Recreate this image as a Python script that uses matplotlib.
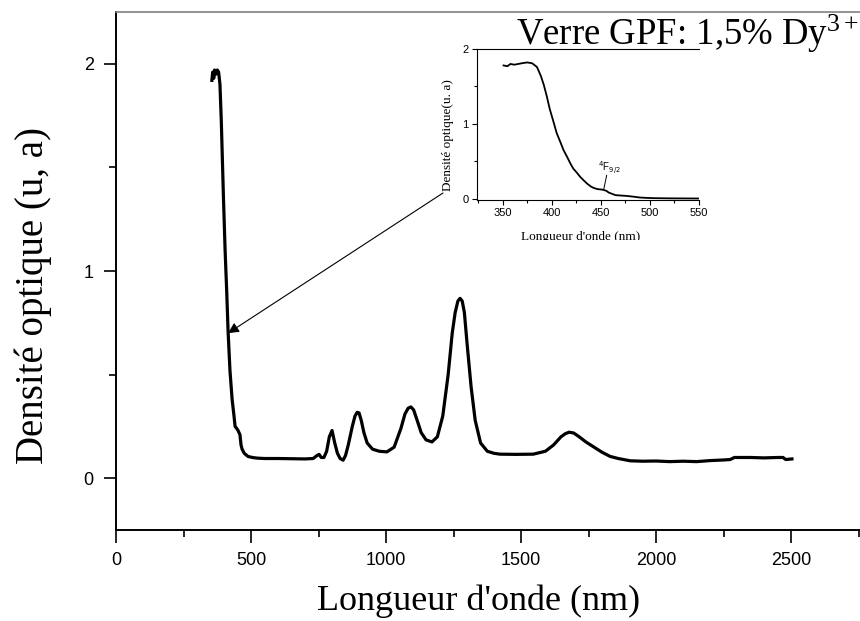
import matplotlib
matplotlib.use("Agg")
import matplotlib.pyplot as plt
from matplotlib.ticker import MultipleLocator
from matplotlib.patches import Rectangle

plt.rcParams["mathtext.fontset"] = "custom"
plt.rcParams["mathtext.rm"] = "Liberation Serif"
plt.rcParams["mathtext.it"] = "Liberation Serif:italic"

# ---- main spectrum (wavelength nm, optical density) ----
wavelength = [355, 358, 362, 365, 370, 375, 380, 385, 390, 393, 398, 404, 410, 415,
              422, 430, 437, 441, 447, 452, 459, 463, 467, 475, 489, 505, 522, 550,
              600, 650, 700, 730, 745, 752, 760, 770, 780, 790, 800, 810, 820, 830,
              841, 850, 860, 875, 885, 893, 900, 908, 918, 930, 950, 975, 1003, 1030,
              1055, 1070, 1082, 1092, 1102, 1115, 1130, 1148, 1170, 1190, 1210, 1230,
              1245, 1256, 1266, 1274, 1282, 1290, 1300, 1315, 1330, 1350, 1375, 1400,
              1422, 1480, 1545, 1590, 1620, 1648, 1664, 1678, 1695, 1715, 1740, 1770,
              1800, 1830, 1860, 1904, 1950, 2000, 2050, 2100, 2150, 2200, 2250, 2274,
              2290, 2350, 2400, 2450, 2470, 2480, 2503]
density = [1.92, 1.96, 1.93, 1.97, 1.95, 1.97, 1.96, 1.90, 1.72, 1.58, 1.35, 1.10,
           0.90, 0.71, 0.52, 0.38, 0.30, 0.25, 0.24, 0.23, 0.21, 0.16, 0.14, 0.12,
           0.105, 0.10, 0.097, 0.095, 0.095, 0.094, 0.093, 0.095, 0.11, 0.115,
           0.10, 0.10, 0.13, 0.20, 0.23, 0.17, 0.12, 0.095, 0.087, 0.11, 0.16,
           0.25, 0.30, 0.318, 0.315, 0.28, 0.22, 0.17, 0.14, 0.13, 0.127, 0.15,
           0.24, 0.31, 0.338, 0.344, 0.33, 0.28, 0.22, 0.185, 0.175, 0.20, 0.30,
           0.50, 0.70, 0.80, 0.855, 0.868, 0.855, 0.80, 0.65, 0.44, 0.28, 0.17,
           0.13, 0.12, 0.116, 0.115, 0.116, 0.13, 0.16, 0.20, 0.215, 0.222, 0.218,
           0.20, 0.175, 0.15, 0.125, 0.105, 0.095, 0.084, 0.082, 0.083, 0.080,
           0.082, 0.080, 0.085, 0.088, 0.090, 0.10, 0.10, 0.098, 0.10, 0.10, 0.09,
           0.093]

# ---- inset spectrum ----
inset_wl = [351, 355, 358, 362, 366, 370, 375, 380, 385, 389, 392, 395, 398, 402,
            405, 409, 412, 416, 419, 422, 426, 429, 432, 436, 440, 443, 447, 451,
            454, 456, 458, 462, 465, 470, 476, 483, 490, 497, 503, 520, 550]
inset_od = [1.78, 1.77, 1.80, 1.79, 1.80, 1.81, 1.82, 1.81, 1.76, 1.64, 1.52, 1.37,
            1.20, 1.02, 0.88, 0.75, 0.65, 0.55, 0.47, 0.40, 0.34, 0.29, 0.25, 0.20,
            0.16, 0.14, 0.125, 0.12, 0.11, 0.10, 0.08, 0.06, 0.045, 0.04, 0.035,
            0.025, 0.013, 0.008, 0.005, 0.002, 0.0]

x_major = [0, 500, 1000, 1500, 2000, 2500]
y_major = [0, 1, 2]
inset_x_major = [350, 400, 450, 500, 550]
inset_y_major = [0, 1, 2]

W, H = 860, 621
fig = plt.figure(figsize=(W / 100, H / 100), dpi=100)

def fx(px):
    return px / W

def fy(py):
    return 1 - py / H

sans = "Liberation Sans"
serif = "Liberation Serif"

# main axes
ax = fig.add_axes([fx(116), fy(530), fx(860) - fx(116), fy(12) - fy(530)])
ax.plot(wavelength, density, color="black", lw=2.3, solid_joinstyle="round")
ax.set_xlim(0, 2755)
ax.set_ylim(-0.25, 2.25)
ax.set_xticks(x_major)
ax.set_yticks(y_major)
ax.xaxis.set_minor_locator(MultipleLocator(250))
ax.yaxis.set_minor_locator(MultipleLocator(0.5))
ax.tick_params(which="major", direction="out", length=9, width=1.2, labelsize=13, pad=7)
ax.tick_params(which="minor", direction="out", length=5, width=1.2)
for lab in ax.get_xticklabels() + ax.get_yticklabels():
    lab.set_fontfamily(sans)
ax.spines["left"].set_linewidth(1.4)
ax.spines["bottom"].set_linewidth(1.4)
ax.spines["top"].set_color("#808080")
ax.spines["top"].set_linewidth(1.2)
ax.spines["right"].set_visible(False)

fig.text(fx(479), fy(601), "Longueur d'onde (nm)", family=serif, fontsize=26,
         ha="center", va="center")
fig.text(fx(33), fy(295), "Densité optique (u, a)", family=serif, fontsize=28,
         ha="center", va="center", rotation=90)
fig.text(fx(858), fy(45), r"Verre GPF: 1,5% Dy$^{\mathrm{3+}}$", family=serif, fontsize=26.5,
         ha="right", va="baseline", math_fontfamily="custom")

# inset axes
ax2 = fig.add_axes([fx(477), fy(200), fx(699) - fx(477), fy(49) - fy(200)])
ax2.plot(inset_wl, inset_od, color="black", lw=1.3)
ax2.set_xlim(324, 550)
ax2.set_ylim(-0.02, 2.0)
ax2.set_xticks(inset_x_major)
ax2.set_yticks(inset_y_major)
ax2.xaxis.set_minor_locator(MultipleLocator(25))
ax2.yaxis.set_minor_locator(MultipleLocator(0.5))
ax2.tick_params(which="major", direction="out", length=3.5, width=0.8, labelsize=8, pad=2.5)
ax2.tick_params(which="minor", direction="out", length=2, width=0.8)
for lab in ax2.get_xticklabels() + ax2.get_yticklabels():
    lab.set_fontfamily(sans)
ax2.spines["right"].set_visible(False)
for s in ["left", "bottom", "top"]:
    ax2.spines[s].set_linewidth(0.8)
ax2.patch.set_alpha(0)

ax2.text(447, 0.37, "$^{4}$F$_{9/2}$", family=sans, fontsize=7, math_fontfamily="dejavusans")
ax2.plot([456, 453], [0.31, 0.12], color="black", lw=0.7)

fig.text(fx(448), fy(135), "Densité optique(u. a)", family=serif, fontsize=9.5,
         ha="center", va="center", rotation=90)
clip = Rectangle((0, fy(240)), 1, 1, transform=fig.transFigure, visible=False)
fig.add_artist(clip)
t = fig.text(fx(581), fy(231), "Longueur d'onde (nm)", family=serif, fontsize=9.5,
             ha="center", va="top")
t.set_clip_path(clip)

# arrow from inset label to main curve
ax.annotate("", xy=(415, 0.70), xycoords="data",
            xytext=(fx(443), fy(193)), textcoords="figure fraction",
            arrowprops=dict(arrowstyle="-|>", color="black", lw=0.8,
                            mutation_scale=16, shrinkA=0, shrinkB=0))

fig.savefig("out.png", dpi=100)
